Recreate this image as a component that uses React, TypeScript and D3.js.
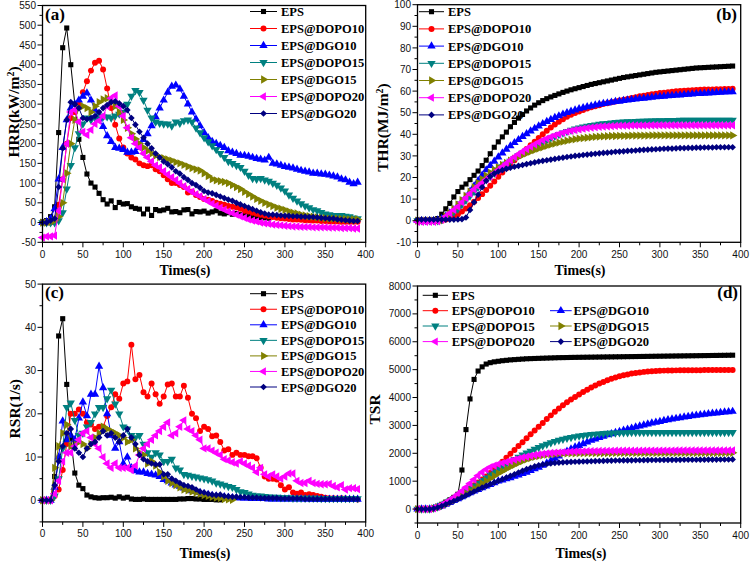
import React from 'react';
import * as d3 from 'd3';

// ---------- categories / series ----------
const STEP_S = 5; // sampling interval (s)
const NAMES = ['EPS', 'EPS@DOPO10', 'EPS@DGO10', 'EPS@DOPO15', 'EPS@DGO15', 'EPS@DOPO20', 'EPS@DGO20'];
const COLORS = ['#000000', '#ff0000', '#0000ff', '#008080', '#808000', '#ff00ff', '#000080'];
const SHAPES = ['square', 'circle', 'up', 'down', 'right', 'left', 'diamond'];

// ---------- HRR (kW/m2) ----------
const HRR_EPS = [2,5,15,40,228,443,493,400,300,211,165,123,100,90,74,58,47,55,38,51,47,48,40,36,34,22,34,18,33,30,32,36,27,28,25,32,33,22,28,27,29,24,27,30,24,22,25,21,23,20,18,16,15,14,12,12,11];
const HRR_DOPO10 = [0,0,0,5,45,110,200,265,280,300,330,358,385,405,410,388,340,290,248,213,190,175,165,160,150,145,143,145,135,130,120,110,100,100,95,90,76,78,70,65,60,58,55,50,48,45,42,40,38,35,30,28,25,22,20,18,16,14,12,11,10,9,8,8,7,6,6,5,5,4,4,3,3,3,2,2,2,2,2];
const HRR_DGO10 = [0,2,10,35,110,190,260,290,300,310,320,328,310,285,262,243,220,205,190,188,185,178,178,180,190,210,225,245,268,290,310,330,345,348,338,320,300,280,262,245,228,215,205,200,195,190,182,178,175,170,170,168,165,162,160,158,165,150,148,145,142,140,138,135,132,130,128,125,125,123,122,120,118,115,110,108,102,98,102];
const HRR_DOPO15 = [0,0,0,0,5,25,85,145,190,225,250,265,260,265,270,268,268,265,270,275,280,300,320,335,330,310,285,265,255,252,250,250,245,255,252,258,260,255,240,228,215,205,195,185,175,165,155,150,145,140,130,120,112,110,112,108,105,100,95,88,80,70,62,55,48,42,38,33,30,26,22,20,18,18,18,16,15,12,10];
const HRR_DGO15 = [0,0,2,5,15,50,125,200,260,290,295,290,280,295,305,312,315,305,295,280,260,240,225,212,200,190,182,175,170,166,163,160,157,153,150,146,142,138,135,132,125,118,110,107,105,103,100,95,90,85,78,72,66,60,55,50,46,42,38,35,32,28,25,23,20,18,16,15,13,12,11,10,10,10,9,9,8,8,8];
const HRR_DOPO20 = [-38,-35,-35,-33,30,110,200,280,285,255,230,222,235,250,258,270,295,315,322,295,270,240,215,200,190,175,165,155,145,140,130,122,115,108,100,92,85,78,72,67,60,54,48,43,38,33,28,24,20,16,12,8,5,3,0,-2,-3,-5,-6,-7,-8,-9,-10,-10,-11,-11,-11,-12,-12,-12,-12,-13,-13,-13,-14,-14,-14,-15,-15];
const HRR_DGO20 = [0,0,5,10,90,188,260,305,300,290,265,262,265,270,280,290,298,305,307,302,295,285,265,248,230,215,200,188,175,165,155,148,140,130,124,115,108,100,95,88,80,76,74,70,66,62,58,55,50,46,42,38,34,30,26,23,20,20,19,18,17,17,16,16,15,15,14,14,13,12,11,10,10,8,7,6,5,4,4];

// ---------- THR (MJ/m2) ----------
const THR_EPS = [0,0,0,0,0.5,1,3,5.5,8,11,13.5,15.5,17,19,21,23,25.5,28,31,34,36.5,38.8,41,43.5,45.5,47.5,49.2,50.8,52.2,53.5,54.6,55.6,56.5,57.3,58,58.7,59.4,60,60.6,61.1,61.6,62.1,62.6,63.1,63.5,63.9,64.3,64.7,65.1,65.5,65.9,66.3,66.6,66.9,67.2,67.5,67.8,68.1,68.4,68.7,68.9,69.1,69.3,69.5,69.7,69.9,70.1,70.3,70.5,70.7,70.8,70.9,71,71.1,71.2,71.3,71.4,71.5,71.6];
const THR_DOPO10 = [0,0,0,0,0,0,0,0.5,1,2,3,4.3,5.7,7.2,8.8,10.5,12.3,14.2,16.2,18.2,20.3,22.3,24.3,26.2,28,29.8,31.5,33.2,34.9,36.6,38.3,40,41.6,43.1,44.5,45.8,47,48.1,49.1,49.9,50.6,51.3,51.9,52.5,53,53.5,54,54.4,54.8,55.2,55.6,56,56.4,56.8,57.2,57.6,57.9,58.2,58.5,58.8,59.1,59.3,59.5,59.7,59.9,60.1,60.2,60.3,60.4,60.5,60.6,60.7,60.8,60.8,60.9,60.9,61,61,61.1];
const THR_DGO10 = [0,0,0,0,0,0.3,1,2,3.5,5,7,9,11,13.5,16,18.5,21,23.5,25.5,27.5,29.5,31.3,33,34.6,36.1,37.5,38.9,40.2,41.5,42.7,43.8,44.9,45.9,46.8,47.7,48.5,49.3,50,50.6,51.2,51.8,52.3,52.7,53.1,53.5,53.9,54.2,54.5,54.8,55.1,55.3,55.6,55.8,56.1,56.3,56.5,56.7,56.9,57.1,57.3,57.5,57.6,57.8,57.9,58.1,58.2,58.4,58.5,58.6,58.8,58.9,59,59.1,59.2,59.3,59.4,59.5,59.6,59.7];
const THR_DOPO15 = [0,0,0,0,0,0,0.5,1.5,2.5,4,5.5,7.5,9.5,11.5,13.5,15.5,17.5,19,20.5,22,23.5,25,26.3,27.6,28.9,30.1,31.3,32.4,33.5,34.5,35.5,36.5,37.4,38.3,39.1,39.9,40.6,41.3,41.9,42.5,43,43.4,43.8,44.1,44.4,44.7,44.9,45.1,45.3,45.5,45.6,45.7,45.8,45.9,46,46.1,46.1,46.2,46.2,46.3,46.3,46.3,46.4,46.4,46.4,46.5,46.5,46.5,46.5,46.5,46.6,46.6,46.6,46.6,46.6,46.6,46.6,46.6,46.6];
const THR_DGO15 = [0,0,0,0,0,0,0.5,2,3.5,5.5,7.5,9.5,11.5,13.5,15.5,17.5,19.2,20.8,22.2,23.5,24.7,25.8,26.8,27.8,28.7,29.6,30.4,31.2,32,32.7,33.4,34,34.6,35.2,35.7,36.2,36.6,37,37.4,37.7,38,38.2,38.4,38.6,38.8,38.9,39,39.1,39.2,39.2,39.3,39.3,39.3,39.4,39.4,39.4,39.4,39.4,39.5,39.5,39.5,39.5,39.5,39.5,39.5,39.5,39.5,39.5,39.5,39.5,39.5,39.5,39.5,39.5,39.5,39.5,39.5,39.5,39.5];
const THR_DOPO20 = [-0.5,-0.5,-0.5,-0.5,-0.5,-0.3,0.5,2,3.5,5,6.5,8.5,10.5,12.5,14.5,16,17.5,19,20.5,22,23.5,25,26.5,28,29.5,30.8,32,33.2,34.3,35.3,36.3,37.2,38,38.8,39.5,40.1,40.7,41.2,41.6,42,42.3,42.6,42.9,43.1,43.3,43.5,43.6,43.7,43.8,43.9,44,44,44,44.1,44.1,44.1,44.1,44.1,44.2,44.2,44.2,44.2,44.2,44.2,44.2,44.2,44.2,44.2,44.2,44.2,44.2,44.2,44.2,44.2,44.2,44.2,44.2,44.2,44.2];
const THR_DGO20 = [0.5,0.5,0.5,0.5,0.5,0.5,0.5,0.5,0.5,0.5,0.6,0.7,1.5,5,8.5,12,15.5,18.5,20.5,21.8,22.8,23.4,24,24.5,25,25.4,25.8,26.2,26.6,27,27.4,27.7,28,28.3,28.6,28.9,29.2,29.5,29.7,30,30.2,30.4,30.6,30.8,31,31.2,31.4,31.5,31.7,31.9,32,32.1,32.3,32.4,32.5,32.7,32.8,32.9,33,33.1,33.2,33.3,33.4,33.4,33.5,33.6,33.6,33.7,33.7,33.8,33.8,33.9,33.9,33.9,34,34,34,34,34];

// ---------- RSR (1/s) ----------
const RSR_EPS = [0,0,0,5.5,38,42,26.8,14.3,6.3,3.5,2.7,1.2,0.8,0.6,0.5,0.6,0.6,0.7,0.5,0.8,0.5,0.7,0.3,0.2,0.2,0.3,0.2,0.2,0.2,0.2,0.2,0.2,0.2,0.2,0.3,0.3,0.4,0.4,0.3,0.3,0.2,0.2,0.2,0.1,0.1];
const RSR_DOPO10 = [0,0,0,1,2.5,7,13,20,20,21,20,18,17.5,16.5,17,17,19.5,21.5,24.5,23.5,27,27.5,36,28,29,25,24,27,24.5,22.3,24,26.8,27,24,24,26.5,23.7,20,19,16,17,16.5,14.8,15,13.5,11.5,11.8,10.5,11,10.5,10.5,10.2,10.2,9.7,7.5,5.5,5,5,4.8,3.5,2.5,3,1.8,1.5,1.8,1.2,1.4,1.2,1,0.8,0.6,0.5,0.5,0.4,0.5,0.4,0.3,0.3,0.2];
const RSR_DGO10 = [0,0,0,3,10,18.3,14,15,14,19,22.7,19.5,24.5,24.5,31,26,20,15,12,13.5,8.5,10,7.5,6.8,6.5,6.5,6.2,6,5.8,5.5,4.8,4.5,4,3.5,3.2,2.8,2.5,2.2,2,1.8,1.5,1.3,1.1,1,0.9,0.8,0.7,0.6,0.6,0.5,0.5,0.5,0.4,0.4,0.4,0.4,0.3,0.3,0.3,0.3,0.3,0.3,0.3,0.3,0.3,0.3,0.3,0.2,0.2,0.2,0.2,0.2,0.2,0.2,0.2,0.2,0.2,0.2,0.2];
const RSR_DOPO15 = [0,0,0,1,5,12,21.5,22.5,18.5,15,15.5,17,18,20,21.5,21.5,23.5,25.5,22.3,20,17,16.5,15,14.5,15,13,11,10,11,10.5,9,9,9.5,7.5,7,6,5.8,5.6,5.4,5.2,5,4.8,4.5,4,3.8,3.5,3.2,3,2.5,2,1.8,1.5,1.2,1,1,0.9,0.8,0.7,0.7,0.6,0.6,0.6,0.5,0.5,0.5,0.5,0.5,0.5,0.5,0.4,0.4,0.4,0.4,0.4,0.4,0.4,0.4,0.4,0.4];
const RSR_DGO15 = [0,0,0,7.5,12.5,15.5,17.5,12.5,13,13.5,13,12,13,14.5,15.5,17,16.5,16,15.5,15,14.5,13.5,14,12,11,10.5,8.5,9,8,6.5,5.5,4.5,4,3.5,3,2.5,2.3,2,1.8,1.5,1.2,1,0.8,0.6,0.5,0.3,0.2,0.1];
const RSR_DOPO20 = [0,0,0,1.5,4.5,9,11,11,12.5,14,15.5,16,14.5,13,12,10,8.5,7.5,8.5,7.5,7.5,7.5,7,8,10.5,12,13,14,15,16,17,18,15,15.5,17,18.5,16.5,16,15,14,12,12,11.5,11,10.5,9.5,9.2,8.8,8.5,9,8.5,8,7.5,6.5,7.5,6,5.5,6,5.5,5,5.5,6.2,6.2,4.5,4,4,4.5,4,3.8,3.7,3.7,3.8,3.3,3,3.5,2.5,2.8,2.8,2.6];
const RSR_DGO20 = [0,0,0,3.5,9,12.5,15.5,16.5,12,11,10,12,13,13.5,14.5,16,15,15.5,14.5,13.5,15,16.5,14.5,13,10.5,9.5,9,8.5,8.3,8.3,6,6,5,4.5,4,3.5,3.3,3,2.5,2,1.8,1.5,1.3,1.2,1.3,1,0.9,0.8,0.8,0.7,0.7,0.6,0.6,0.6,0.5,0.5,0.5,0.5,0.5,0.4,0.4,0.4,0.4,0.4,0.4,0.3,0.3,0.3,0.3,0.3,0.3,0.3,0.3,0.3,0.3,0.3,0.3,0.3,0.3];

// ---------- TSR ----------
const TSR_EPS = [0,0,0,0,50,100,170,250,330,420,530,1400,2850,3950,4650,4950,5100,5200,5250,5280,5300,5320,5335,5350,5360,5370,5380,5390,5395,5400,5405,5410,5415,5420,5425,5430,5432,5435,5438,5440,5442,5444,5446,5448,5450,5452,5454,5456,5458,5460,5462,5464,5466,5468,5470,5472,5474,5476,5478,5480,5482,5484,5486,5488,5490,5492,5494,5496,5498,5500,5502,5504,5506,5508,5510,5512,5514,5516,5518];
const TSR_DOPO10 = [0,0,0,0,30,80,140,210,290,380,470,560,650,750,850,950,1060,1170,1290,1420,1560,1700,1840,1980,2120,2260,2400,2540,2680,2815,2950,3090,3230,3360,3490,3610,3720,3830,3930,4020,4110,4200,4280,4360,4430,4500,4560,4620,4670,4720,4760,4800,4830,4860,4880,4900,4920,4935,4945,4955,4960,4965,4970,4972,4974,4976,4978,4980,4980,4982,4982,4984,4984,4985,4985,4986,4986,4987,4987];
const TSR_DGO10 = [0,0,0,0,20,60,110,170,230,300,370,440,510,580,640,700,760,820,880,940,1000,1040,1080,1120,1170,1220,1270,1320,1380,1440,1500,1570,1650,1730,1820,1900,1990,2070,2150,2220,2280,2340,2400,2460,2510,2560,2610,2660,2700,2740,2780,2820,2860,2900,2940,2975,3010,3045,3080,3110,3140,3170,3200,3225,3250,3275,3300,3320,3340,3360,3380,3400,3415,3430,3445,3460,3475,3490,3500];
const TSR_DOPO15 = [0,0,0,0,30,80,140,210,290,370,450,540,630,730,830,930,1030,1130,1230,1330,1430,1520,1610,1700,1780,1860,1940,2010,2080,2150,2210,2270,2330,2380,2430,2470,2510,2540,2570,2600,2620,2640,2660,2680,2690,2700,2710,2720,2725,2730,2735,2740,2740,2745,2745,2750,2750,2750,2750,2750,2750,2750,2750,2750,2750,2750,2750,2750,2750,2750,2750,2750,2750,2750,2750,2750,2750,2750,2750];
const TSR_DGO15 = [0,0,0,0,20,60,110,170,240,310,390,470,560,650,740,830,920,1010,1100,1190,1280,1360,1440,1520,1590,1660,1720,1780,1830,1870,1900,1930,1950,1965,1975,1985,1990,1995,2000,2000,2005,2005,2010,2010,2010,2010,2010,2010,2010,2015,2015,2015,2015,2015,2015,2015,2015,2015,2015,2015,2015,2020,2020,2020,2020,2020,2020,2020,2020,2020,2020,2020,2020,2020,2020,2020,2020,2020,2020];
const TSR_DOPO20 = [0,0,0,0,30,80,150,230,320,420,530,650,780,920,1060,1200,1320,1420,1500,1560,1610,1650,1690,1730,1770,1810,1850,1880,1910,1940,1960,1980,2000,2010,2020,2030,2040,2050,2060,2065,2070,2072,2075,2078,2080,2082,2084,2086,2088,2090,2090,2092,2092,2094,2094,2095,2095,2096,2096,2097,2097,2098,2098,2098,2099,2099,2099,2100,2100,2100,2100,2100,2100,2100,2100,2100,2100,2100,2100];
const TSR_DGO20 = [0,0,0,0,20,60,110,170,230,290,350,420,490,560,630,700,770,830,890,950,1010,1070,1130,1190,1250,1310,1370,1430,1480,1530,1570,1600,1620,1640,1655,1665,1675,1683,1690,1695,1700,1705,1710,1715,1720,1724,1728,1732,1736,1740,1742,1744,1746,1748,1750,1752,1754,1756,1758,1760,1761,1762,1763,1764,1765,1766,1767,1768,1769,1770,1771,1772,1773,1774,1775,1776,1777,1778,1780];

// ---------- ticks ----------
const X_TICKS = [0, 50, 100, 150, 200, 250, 300, 350, 400];
const HRR_TICKS = [-50, 0, 50, 100, 150, 200, 250, 300, 350, 400, 450, 500, 550];
const THR_TICKS = [-10, 0, 10, 20, 30, 40, 50, 60, 70, 80, 90, 100];
const RSR_TICKS = [0, 10, 20, 30, 40, 50];
const TSR_TICKS = [0, 1000, 2000, 3000, 4000, 5000, 6000, 7000, 8000];

const SANS = '"Liberation Sans", Arial, Helvetica, sans-serif';
const SERIF = '"Liberation Serif", "Times New Roman", Times, serif';

const SYM: Record<string, { path: string; rot: number }> = {
  square: { path: d3.symbol(d3.symbolSquare, 26)() as string, rot: 0 },
  circle: { path: d3.symbol(d3.symbolCircle, 28)() as string, rot: 0 },
  up: { path: d3.symbol(d3.symbolTriangle, 30)() as string, rot: 0 },
  down: { path: d3.symbol(d3.symbolTriangle, 30)() as string, rot: 180 },
  right: { path: d3.symbol(d3.symbolTriangle, 30)() as string, rot: 90 },
  left: { path: d3.symbol(d3.symbolTriangle, 30)() as string, rot: -90 },
  diamond: { path: d3.symbol(d3.symbolSquare, 22)() as string, rot: 45 },
};

function Marker({ shape, x, y, color }: { shape: string; x: number; y: number; color: string }) {
  const s = SYM[shape];
  return <path d={s.path} transform={`translate(${x.toFixed(2)},${y.toFixed(2)})${s.rot ? ` rotate(${s.rot})` : ''}`} fill={color} />;
}

type LegendItem = { k: number; lx0: number; lx1: number; tx: number; y: number };

type PanelCfg = {
  x0: number; x1: number; yTop: number; yBottom: number;
  yDomain: [number, number]; yTicks: number[]; yMinor: number;
  series: number[][];
  legend: LegendItem[];
  tag: string; tagX: number; tagY: number; tagAnchor: 'start' | 'end';
  xTitleX: number; xTitleY: number;
  yTitle: React.ReactNode; yTitleX: number; yTitleY: number;
};

function Panel({ p }: { p: PanelCfg }) {
  const xs = d3.scaleLinear().domain([0, 400]).range([p.x0, p.x1]);
  const ys = d3.scaleLinear().domain(p.yDomain).range([p.yBottom, p.yTop]);
  const line = d3.line<[number, number]>();
  const xMinor = d3.range(0, 400 + 1e-9, 25);
  const yMinor = d3.range(p.yDomain[0], p.yDomain[1] + 1e-9, p.yMinor);
  const isMajor = (v: number, arr: number[]) => arr.some((t) => Math.abs(t - v) < 1e-9);
  return (
    <g>
      {p.series.map((vals, k) => {
        const pts: [number, number][] = vals.map((v, i) => [xs(i * STEP_S), ys(v)]);
        return (
          <g key={k}>
            <path d={line(pts) || ''} fill="none" stroke={COLORS[k]} strokeWidth={1} />
            {pts.map(([px, py], i) => (
              <Marker key={i} shape={SHAPES[k]} x={px} y={py} color={COLORS[k]} />
            ))}
          </g>
        );
      })}
      <rect x={p.x0} y={p.yTop} width={p.x1 - p.x0} height={p.yBottom - p.yTop} fill="none" stroke="#000" strokeWidth={1.3} />
      {/* y ticks */}
      {yMinor.map((v, i) => {
        const major = isMajor(v, p.yTicks);
        return <line key={'ym' + i} x1={p.x0} x2={p.x0 - (major ? 5 : 3)} y1={ys(v)} y2={ys(v)} stroke="#000" strokeWidth={1} />;
      })}
      {p.yTicks.map((v) => (
        <text key={'yl' + v} x={p.x0 - 6.5} y={ys(v)} dy="0.36em" textAnchor="end" fontFamily={SANS} fontSize={10} fill="#111">{v}</text>
      ))}
      {/* x ticks */}
      {xMinor.map((v, i) => {
        const major = isMajor(v, X_TICKS);
        return <line key={'xm' + i} x1={xs(v)} x2={xs(v)} y1={p.yBottom} y2={p.yBottom + (major ? 5 : 3)} stroke="#000" strokeWidth={1} />;
      })}
      {X_TICKS.map((v) => (
        <text key={'xl' + v} x={xs(v)} y={p.yBottom + 15.5} textAnchor="middle" fontFamily={SANS} fontSize={10} fill="#111">{v}</text>
      ))}
      {/* titles */}
      <text x={p.xTitleX} y={p.xTitleY} textAnchor="middle" fontFamily={SERIF} fontWeight="bold" fontSize={14}>Times(s)</text>
      <text transform={`translate(${p.yTitleX},${p.yTitleY}) rotate(-90)`} textAnchor="middle" fontFamily={SERIF} fontWeight="bold" fontSize={15.5}>{p.yTitle}</text>
      <text x={p.tagX} y={p.tagY} textAnchor={p.tagAnchor} fontFamily={SERIF} fontWeight="bold" fontSize={17}>{p.tag}</text>
      {/* legend */}
      {p.legend.map((it) => (
        <g key={'lg' + it.k}>
          <line x1={it.lx0} x2={it.lx1} y1={it.y} y2={it.y} stroke={COLORS[it.k]} strokeWidth={1} />
          <Marker shape={SHAPES[it.k]} x={(it.lx0 + it.lx1) / 2} y={it.y} color={COLORS[it.k]} />
          <text x={it.tx} y={it.y + 4.5} fontFamily={SERIF} fontWeight="bold" fontSize={12.5}>{NAMES[it.k]}</text>
        </g>
      ))}
    </g>
  );
}

const colLegend = (lx0: number, lx1: number, tx: number, y0: number, dy: number): LegendItem[] =>
  NAMES.map((_, k) => ({ k, lx0, lx1, tx, y: y0 + k * dy }));

const D_ROWS = [295.3, 310.7, 326, 341.6];
const D_LEGEND: LegendItem[] = [
  { k: 0, lx0: 422.7, lx1: 448, tx: 451.7, y: D_ROWS[0] },
  { k: 1, lx0: 422.7, lx1: 448, tx: 451.7, y: D_ROWS[1] },
  { k: 2, lx0: 550, lx1: 571.7, tx: 573.5, y: D_ROWS[1] },
  { k: 3, lx0: 422.7, lx1: 448, tx: 451.7, y: D_ROWS[2] },
  { k: 4, lx0: 550, lx1: 571.7, tx: 573.5, y: D_ROWS[2] },
  { k: 5, lx0: 422.7, lx1: 448, tx: 451.7, y: D_ROWS[3] },
  { k: 6, lx0: 550, lx1: 571.7, tx: 573.5, y: D_ROWS[3] },
];

const sup = (base: string, tail: string) => (
  <>
    {base}
    <tspan baselineShift="super" fontSize={10}>2</tspan>
    {tail}
  </>
);

const PANELS: PanelCfg[] = [
  {
    x0: 42.5, x1: 365.7, yTop: 5.5, yBottom: 242.3, yDomain: [-50, 550], yTicks: HRR_TICKS, yMinor: 25,
    series: [HRR_EPS, HRR_DOPO10, HRR_DGO10, HRR_DOPO15, HRR_DGO15, HRR_DOPO20, HRR_DGO20],
    legend: colLegend(250, 277, 281, 11.5, 17),
    tag: '(a)', tagX: 45, tagY: 19.5, tagAnchor: 'start',
    xTitleX: 185, xTitleY: 274.5,
    yTitle: sup('HRR(kW/m', ')'), yTitleX: 18.5, yTitleY: 112,
  },
  {
    x0: 417.5, x1: 740.7, yTop: 4.7, yBottom: 242.3, yDomain: [-10, 100], yTicks: THR_TICKS, yMinor: 5,
    series: [THR_EPS, THR_DOPO10, THR_DGO10, THR_DOPO15, THR_DGO15, THR_DOPO20, THR_DGO20],
    legend: colLegend(419, 444, 448, 11.7, 17.2),
    tag: '(b)', tagX: 737, tagY: 19.5, tagAnchor: 'end',
    xTitleX: 580, xTitleY: 274.5,
    yTitle: sup('THR(MJ/m', ')'), yTitleX: 387.5, yTitleY: 127.5,
  },
  {
    x0: 42.5, x1: 365.7, yTop: 284.1, yBottom: 521.9, yDomain: [-5, 50], yTicks: RSR_TICKS, yMinor: 5,
    series: [RSR_EPS, RSR_DOPO10, RSR_DGO10, RSR_DOPO15, RSR_DGO15, RSR_DOPO20, RSR_DGO20],
    legend: colLegend(250, 277, 281, 293.7, 15.55),
    tag: '(c)', tagX: 45, tagY: 298, tagAnchor: 'start',
    xTitleX: 205, xTitleY: 557.5,
    yTitle: 'RSR(1/s)', yTitleX: 19.5, yTitleY: 408.7,
  },
  {
    x0: 417.5, x1: 740.7, yTop: 286, yBottom: 523, yDomain: [-500, 8000], yTicks: TSR_TICKS, yMinor: 500,
    series: [TSR_EPS, TSR_DOPO10, TSR_DGO10, TSR_DOPO15, TSR_DGO15, TSR_DOPO20, TSR_DGO20],
    legend: D_LEGEND,
    tag: '(d)', tagX: 738, tagY: 298, tagAnchor: 'end',
    xTitleX: 581, xTitleY: 557.5,
    yTitle: 'TSR', yTitleX: 380, yTitleY: 409.5,
  },
];

export default function App() {
  return (
    <svg width={750} height={564} viewBox="0 0 750 564" style={{ position: 'absolute', left: 0, top: 0, background: '#fff' }}>
      <rect x={0} y={0} width={750} height={564} fill="#fff" />
      {PANELS.map((p, i) => (
        <Panel key={i} p={p} />
      ))}
    </svg>
  );
}
